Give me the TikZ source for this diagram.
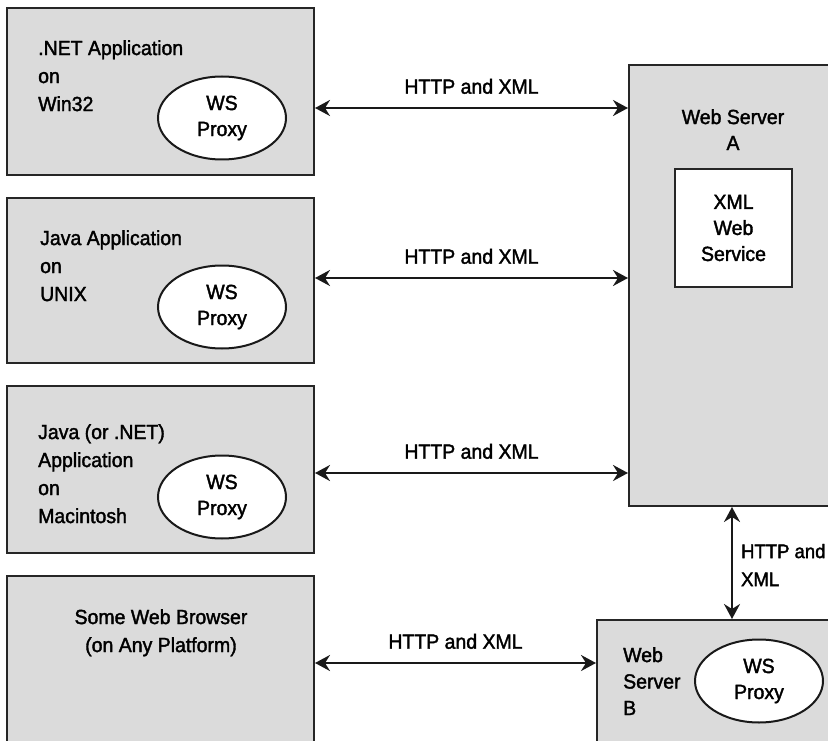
\documentclass[tikz,border=0pt]{standalone}
\usepackage{fontspec}
\setmainfont{Liberation Sans}[FakeStretch=0.95,FakeBold=1.8]
\usetikzlibrary{arrows.meta,shapes.geometric,positioning}

\begin{document}
\begin{tikzpicture}[x=1pt,y=-1pt,font=\fontsize{20.5}{28}\selectfont,
  box/.style={draw=black!85,line width=2pt,fill=black!14,inner sep=0},
  proxy/.style={ellipse,draw=black!90,line width=2pt,fill=white,minimum width=128pt,minimum height=83pt,inner sep=0,align=center,font=\fontsize{20.5}{26}\selectfont},
  txt/.style={inner sep=0,align=left},
  link/.style={{Stealth[length=15pt,width=16pt,inset=5pt]}-{Stealth[length=15pt,width=16pt,inset=5pt]},line width=2.2pt,draw=black!90},
  lbl/.style={inner sep=0}]
\useasboundingbox (0,0) rectangle (828,741);
% clients
\node[box,minimum width=307pt,minimum height=167pt] (app1) at (160.5,91.5) {};
\node[box,minimum width=307pt,minimum height=165pt] (app2) at (160.5,280.5) {};
\node[box,minimum width=307pt,minimum height=167pt] (app3) at (160.5,469.5) {};
\node[box,minimum width=307pt,minimum height=184pt] (browser) at (160.5,668) {};
\node[txt,anchor=north west] (app1txt) at (38,40) {.NET Application\\on\\Win32};
\node[txt,anchor=north west] (app2txt) at (40,230) {Java Application\\on\\UNIX};
\node[txt,anchor=north west] (app3txt) at (38,424) {Java (or .NET)\\Application\\on\\Macintosh};
\node[txt,align=center,anchor=north] (browsertxt) at (161,609) {Some Web Browser\\(on Any Platform)};
\node[proxy] (proxy1) at (222,118) {WS\\Proxy};
\node[proxy] (proxy2) at (222,307) {WS\\Proxy};
\node[proxy] (proxy3) at (222,497) {WS\\Proxy};
% servers
\node[box,minimum width=206pt,minimum height=441pt] (serverA) at (732,285.5) {};
\node[txt,align=center,anchor=north,font=\fontsize{20.5}{26}\selectfont] (serverAtxt) at (733,109) {Web Server\\A};
\node[box,fill=white,minimum size=117pt,align=center,font=\fontsize{20.5}{26}\selectfont] (service) at (733.5,228) {XML\\Web\\Service};
\node[box,minimum width=270pt,minimum height=140pt] (serverB) at (732,690) {};
\node[txt,anchor=north west,font=\fontsize{20.5}{26.5}\selectfont] (serverBtxt) at (623,647) {Web\\Server\\B};
\node[proxy] (proxyB) at (759,681) {WS\\Proxy};
% connectors
\draw[link] ([yshift=-16.5pt]app1.east) -- ([yshift=-16.5pt]app1.east -| serverA.west) node[lbl,midway,above=13pt] {HTTP and XML};
\draw[link] ([yshift=2.5pt]app2.east) -- ([yshift=2.5pt]app2.east -| serverA.west) node[lbl,midway,above=13pt] {HTTP and XML};
\draw[link] ([yshift=-3.5pt]app3.east) -- ([yshift=-3.5pt]app3.east -| serverA.west) node[lbl,midway,above=13pt] {HTTP and XML};
\draw[link] ([yshift=5pt]browser.east) -- ([yshift=5pt]browser.east -| serverB.west) node[lbl,midway,above=13pt] {HTTP and XML};
\draw[link] (serverA.south) -- (serverB.north) node[txt,anchor=north west,pos=0.32,xshift=8pt,font=\fontsize{19.5}{28}\selectfont] {HTTP and\\XML};
\end{tikzpicture}
\end{document}
